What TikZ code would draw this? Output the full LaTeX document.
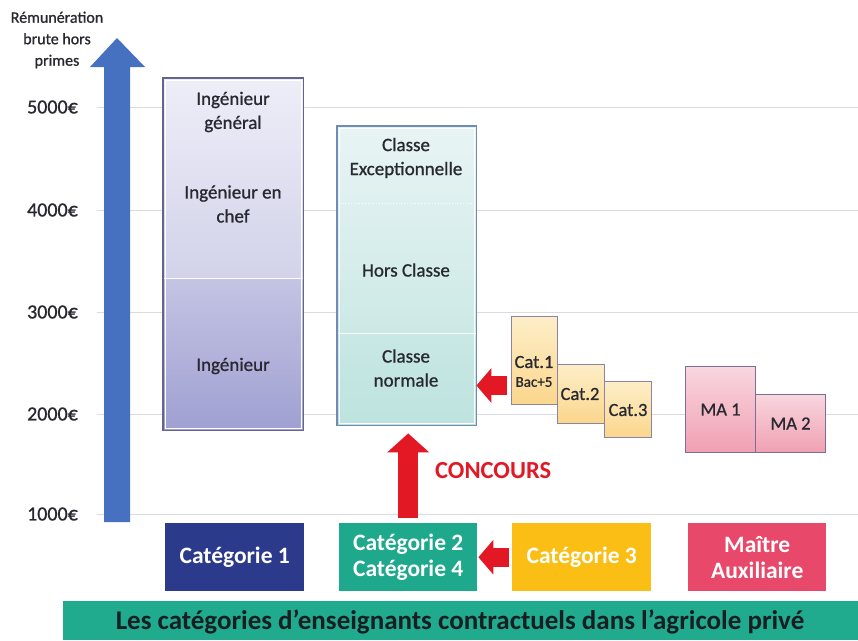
\documentclass[tikz,border=0pt]{standalone}
\usepackage{fontspec}
\setmainfont{Carlito}
\newfontfamily\medfont[FakeBold=0.9]{Carlito}
\usetikzlibrary{arrows.meta}
\definecolor{navy}{RGB}{44,58,140}
\definecolor{tealbox}{RGB}{30,168,140}
\definecolor{yellowbox}{RGB}{250,190,20}
\definecolor{pinkbox}{RGB}{232,72,106}
\definecolor{bandcol}{RGB}{32,170,142}
\definecolor{axisblue}{RGB}{70,112,192}
\definecolor{arrowred}{RGB}{226,24,36}
\definecolor{gridcol}{RGB}{218,218,226}
\definecolor{txtdark}{RGB}{40,40,48}
\definecolor{bandtxt}{RGB}{25,30,35}
\definecolor{aTopA}{RGB}{238,238,248}
\definecolor{aTopB}{RGB}{210,210,234}
\definecolor{aBotA}{RGB}{196,196,228}
\definecolor{aBotB}{RGB}{160,160,210}
\definecolor{aBord}{RGB}{100,100,140}
\definecolor{bTopA}{RGB}{232,244,244}
\definecolor{bTopB}{RGB}{222,240,239}
\definecolor{bMidB}{RGB}{204,233,230}
\definecolor{bBotA}{RGB}{200,232,228}
\definecolor{bBotB}{RGB}{190,227,222}
\definecolor{bBord}{RGB}{110,140,180}
\definecolor{yBord}{RGB}{140,132,165}
\definecolor{yTop}{RGB}{253,238,200}
\definecolor{yBot}{RGB}{251,214,140}
\definecolor{mBord}{RGB}{125,110,150}
\definecolor{mTop}{RGB}{248,214,222}
\definecolor{mBot}{RGB}{240,160,178}
\tikzset{
  gridline/.style={draw=gridcol, line width=1pt},
  axislbl/.style={anchor=east, font=\medfont\fontsize{20}{22}\selectfont, text=txtdark, inner sep=0pt},
  part/.style={rectangle, inner sep=0pt, draw=none, anchor=north west},
  coltxt/.style={align=center, font=\medfont\fontsize{19}{24}\selectfont, text=txtdark, inner sep=0pt},
  smalltxt/.style={align=center, font=\medfont\fontsize{18.5}{20}\selectfont, text=txtdark, inner sep=0pt},
  colborder/.style={draw=#1, line width=1.2pt},
  catbox/.style={rectangle, inner sep=0pt, anchor=north west, minimum height=68pt,
     fill=#1, text=white, align=center, font=\bfseries\fontsize{23.5}{26}\selectfont},
  redarrow/.style={draw=arrowred, line width=#1},
  ybox/.style={rectangle, inner sep=0pt, anchor=north west, draw=yBord, line width=1pt, top color=yTop, bottom color=yBot},
  mabox/.style={rectangle, inner sep=0pt, anchor=north west, draw=mBord, line width=1pt, top color=mTop, bottom color=mBot},
}
\begin{document}
\begin{tikzpicture}[x=1pt,y=-1pt]
\useasboundingbox (0,0) rectangle (858,640);
% grid lines
\foreach \yy in {107,210,312,414,514} \draw[gridline] (97,\yy) -- (858,\yy);
% axis labels
\node[axislbl] (l5) at (78,107) {5000€};
\node[axislbl] (l4) at (78,210) {4000€};
\node[axislbl] (l3) at (78,312) {3000€};
\node[axislbl] (l2) at (78,414) {2000€};
\node[axislbl] (l1) at (78,514) {1000€};
\node[align=center, font=\medfont\fontsize{16}{21.5}\selectfont, text=txtdark, inner sep=0pt] (ytitle) at (57,40) {Rémunération\\brute hors\\primes};
% blue axis arrow
\fill[axisblue] (104,522) -- (104,67) -- (90,67) -- (117,38) -- (145,67) -- (130,67) -- (130,522) -- cycle;
% Column 1 (Catégorie 1)
\node[part, minimum width=140pt, minimum height=200pt, top color=aTopA, bottom color=aTopB] (aTop) at (163,78) {};
\node[part, minimum width=140pt, minimum height=152pt, top color=aBotA, bottom color=aBotB] (aBot) at (163,278) {};
\draw[white, line width=1.2pt] (aTop.south west) -- (aTop.south east);
\draw[white, line width=0.8pt] ([shift={(2pt,-2pt)}]aTop.north west) rectangle ([shift={(-2pt,2pt)}]aBot.south east);
\draw[colborder=aBord] (aTop.north west) rectangle (aBot.south east);
\node[coltxt] (ig) at (233,112) {Ingénieur\\général};
\node[coltxt] (ic) at (233,204) {Ingénieur en\\chef};
\node[coltxt] (in) at (233,366) {Ingénieur};
% Column 2 (Catégorie 2/4)
\node[part, minimum width=139pt, minimum height=77pt, top color=bTopA, bottom color=bTopB] (bTop) at (337,126) {};
\node[part, minimum width=139pt, minimum height=130pt, top color=bTopB, bottom color=bMidB] (bMid) at (337,203) {};
\node[part, minimum width=139pt, minimum height=92pt, top color=bBotA, bottom color=bBotB] (bBot) at (337,333) {};
\draw[white, line width=1.2pt] (bMid.south west) -- (bMid.south east);
\draw[white, line width=0.8pt, dotted] (bTop.south west) -- (bTop.south east);
\draw[white, line width=0.8pt] ([shift={(2pt,-2pt)}]bTop.north west) rectangle ([shift={(-2pt,2pt)}]bBot.south east);
\draw[colborder=bBord] (bTop.north west) rectangle (bBot.south east);
\node[coltxt] (ce) at (406,158) {Classe\\Exceptionnelle};
\node[coltxt] (hc) at (406,270) {Hors Classe};
\node[coltxt] (cn) at (406,368) {Classe\\normale};
% Small Cat boxes
\node[ybox, minimum width=46pt, minimum height=88pt] (c1) at (511,316) {};
\node[ybox, minimum width=47pt, minimum height=59pt] (c2) at (557,364) {};
\node[ybox, minimum width=47pt, minimum height=56pt] (c3) at (604,381) {};
\node[smalltxt] (c1t) at (534,362) {Cat.1};
\node[inner sep=0pt, text=txtdark, font=\medfont\fontsize{15}{17}\selectfont] (c1b) at (534,382) {Bac+5};
\node[smalltxt] (c2t) at (580,394) {Cat.2};
\node[smalltxt] (c3t) at (628,410) {Cat.3};
% MA boxes
\node[mabox, minimum width=70pt, minimum height=86pt] (ma1) at (685,366) {};
\node[mabox, minimum width=70pt, minimum height=58pt] (ma2) at (755,394) {};
\node[smalltxt] (ma1t) at (ma1.center) {MA 1};
\node[smalltxt] (ma2t) at (ma2.center) {MA 2};
% bottom category boxes
\node[catbox=navy, minimum width=139pt] (cat1) at (165,523) {Catégorie 1};
\node[catbox=tealbox, minimum width=138pt] (cat24) at (339,523) {Catégorie 2\\Catégorie 4};
\node[catbox=yellowbox, minimum width=139pt] (cat3) at (512,523) {Catégorie 3};
\node[catbox=pinkbox, minimum width=138pt] (ma) at (688,523) {Maître\\Auxiliaire};
% band
\fill[bandcol] (63,601) rectangle (858,640);
\node[font=\bfseries\fontsize{27}{30}\selectfont, text=bandtxt, inner sep=0pt] (band) at (460,622) {Les catégories d’enseignants contractuels dans l’agricole privé};
% red arrows
\coordinate (upS) at ([yshift=5pt]cat24.north);
\coordinate (upE) at ([yshift=-8pt]bBot.south);
\draw[redarrow=20pt, -{Triangle[width=41pt,length=19pt]}] (upS) -- (upS |- upE);
\node[font=\bfseries\fontsize{24.5}{26}\selectfont, text=arrowred, inner sep=0pt, anchor=west] (conc) at (435,471) {CONCOURS};
\coordinate (lt) at ([shift={(-4pt,-25pt)}]c1.west);
\draw[redarrow=19pt, -{Triangle[width=34pt,length=15pt]}] (lt) -- (lt -| bBot.east);
\draw[redarrow=19pt, -{Triangle[width=34pt,length=15pt]}] ([xshift=-3pt]cat3.west) -- ([xshift=1pt]cat24.east);
\end{tikzpicture}
\end{document}
